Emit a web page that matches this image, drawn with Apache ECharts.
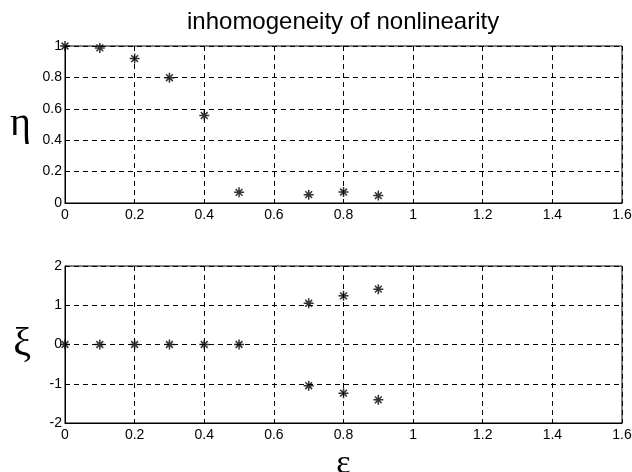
<!DOCTYPE html>
<html>
<head>
<meta charset="utf-8">
<script src="https://cdn.jsdelivr.net/npm/echarts@6/dist/echarts.min.js"></script>
<style>html,body{margin:0;padding:0;background:#fff;}#c{width:632px;height:472px;}</style>
</head>
<body>
<div id="c"></div>
<script>
const titleText = 'inhomogeneity of nonlinearity';
const epsTop = [0, 0.1, 0.2, 0.3, 0.4, 0.5, 0.7, 0.8, 0.9];
const eta = [1.0, 0.988, 0.92, 0.798, 0.557, 0.068, 0.053, 0.07, 0.047];
const epsBottom = [0, 0.1, 0.2, 0.3, 0.4, 0.5, 0.7, 0.7, 0.8, 0.8, 0.9, 0.9];
const xi = [0, 0, 0, 0, 0, 0, 1.05, -1.05, 1.24, -1.24, 1.41, -1.41];
const xRange = [0, 1.6, 0.2];
const etaRange = [0, 1, 0.2];
const xiRange = [-2, 2, 1];

const star = 'path://M5,0L5,10M0,5L10,5M1.6,1.6L8.4,8.4M1.6,8.4L8.4,1.6';
const font = 'Liberation Sans, Arial, sans-serif';
const greek = 'Liberation Serif, DejaVu Serif, serif';
const dashed = { show: true, lineStyle: { color: '#000', width: 1, type: [5, 4] } };

function xAx(idx, name) {
  return {
    type: 'value', gridIndex: idx, min: xRange[0], max: xRange[1], interval: xRange[2],
    axisLine: { show: true, onZero: false, lineStyle: { color: '#000', width: 1 } },
    axisTick: { show: true, inside: true, length: 4, lineStyle: { color: '#000' } },
    axisLabel: { color: '#000', fontSize: 14, fontFamily: font, margin: 5 },
    splitLine: dashed,
    name: name, nameLocation: 'middle', nameGap: 24,
    nameTextStyle: { fontFamily: greek, fontSize: 34, color: '#000' }
  };
}
function yAx(idx, r, name) {
  return {
    type: 'value', gridIndex: idx, min: r[0], max: r[1], interval: r[2],
    axisLine: { show: true, onZero: false, lineStyle: { color: '#000', width: 1 } },
    axisTick: { show: true, inside: true, length: 4, lineStyle: { color: '#000' } },
    axisLabel: { color: '#000', fontSize: 14, fontFamily: font, margin: 3 },
    splitLine: dashed,
    name: name, nameLocation: 'middle', nameGap: 34, nameRotate: 0,
    nameTextStyle: { fontFamily: greek, fontSize: 40, color: '#000', padding: [8, 0, 0, 0] }
  };
}

const chart = echarts.init(document.getElementById('c'), null, { renderer: 'canvas' });
chart.setOption({
  backgroundColor: '#fff',
  animation: false,
  title: {
    text: titleText, left: 182, top: 5,
    textStyle: { fontFamily: font, fontSize: 24, fontWeight: 'normal', color: '#000' }
  },
  grid: [
    { left: 65, top: 46, width: 557, height: 157, show: true, borderColor: '#000', borderWidth: 1, backgroundColor: 'transparent', outerBoundsMode: 'none', containLabel: false },
    { left: 65, top: 266, width: 557, height: 157, show: true, borderColor: '#000', borderWidth: 1, backgroundColor: 'transparent', outerBoundsMode: 'none', containLabel: false }
  ],
  xAxis: [xAx(0, ''), xAx(1, 'ε')],
  yAxis: [yAx(0, etaRange, 'η'), yAx(1, xiRange, 'ξ')],
  series: [
    {
      type: 'scatter', xAxisIndex: 0, yAxisIndex: 0,
      data: epsTop.map((x, i) => [x, eta[i]]),
      symbol: star, symbolSize: 10, clip: false,
      itemStyle: { color: '#000', borderColor: '#000', borderWidth: 1.5 }
    },
    {
      type: 'scatter', xAxisIndex: 1, yAxisIndex: 1,
      data: epsBottom.map((x, i) => [x, xi[i]]),
      symbol: star, symbolSize: 10, clip: false,
      itemStyle: { color: '#000', borderColor: '#000', borderWidth: 1.5 }
    }
  ]
});
</script>
</body>
</html>
